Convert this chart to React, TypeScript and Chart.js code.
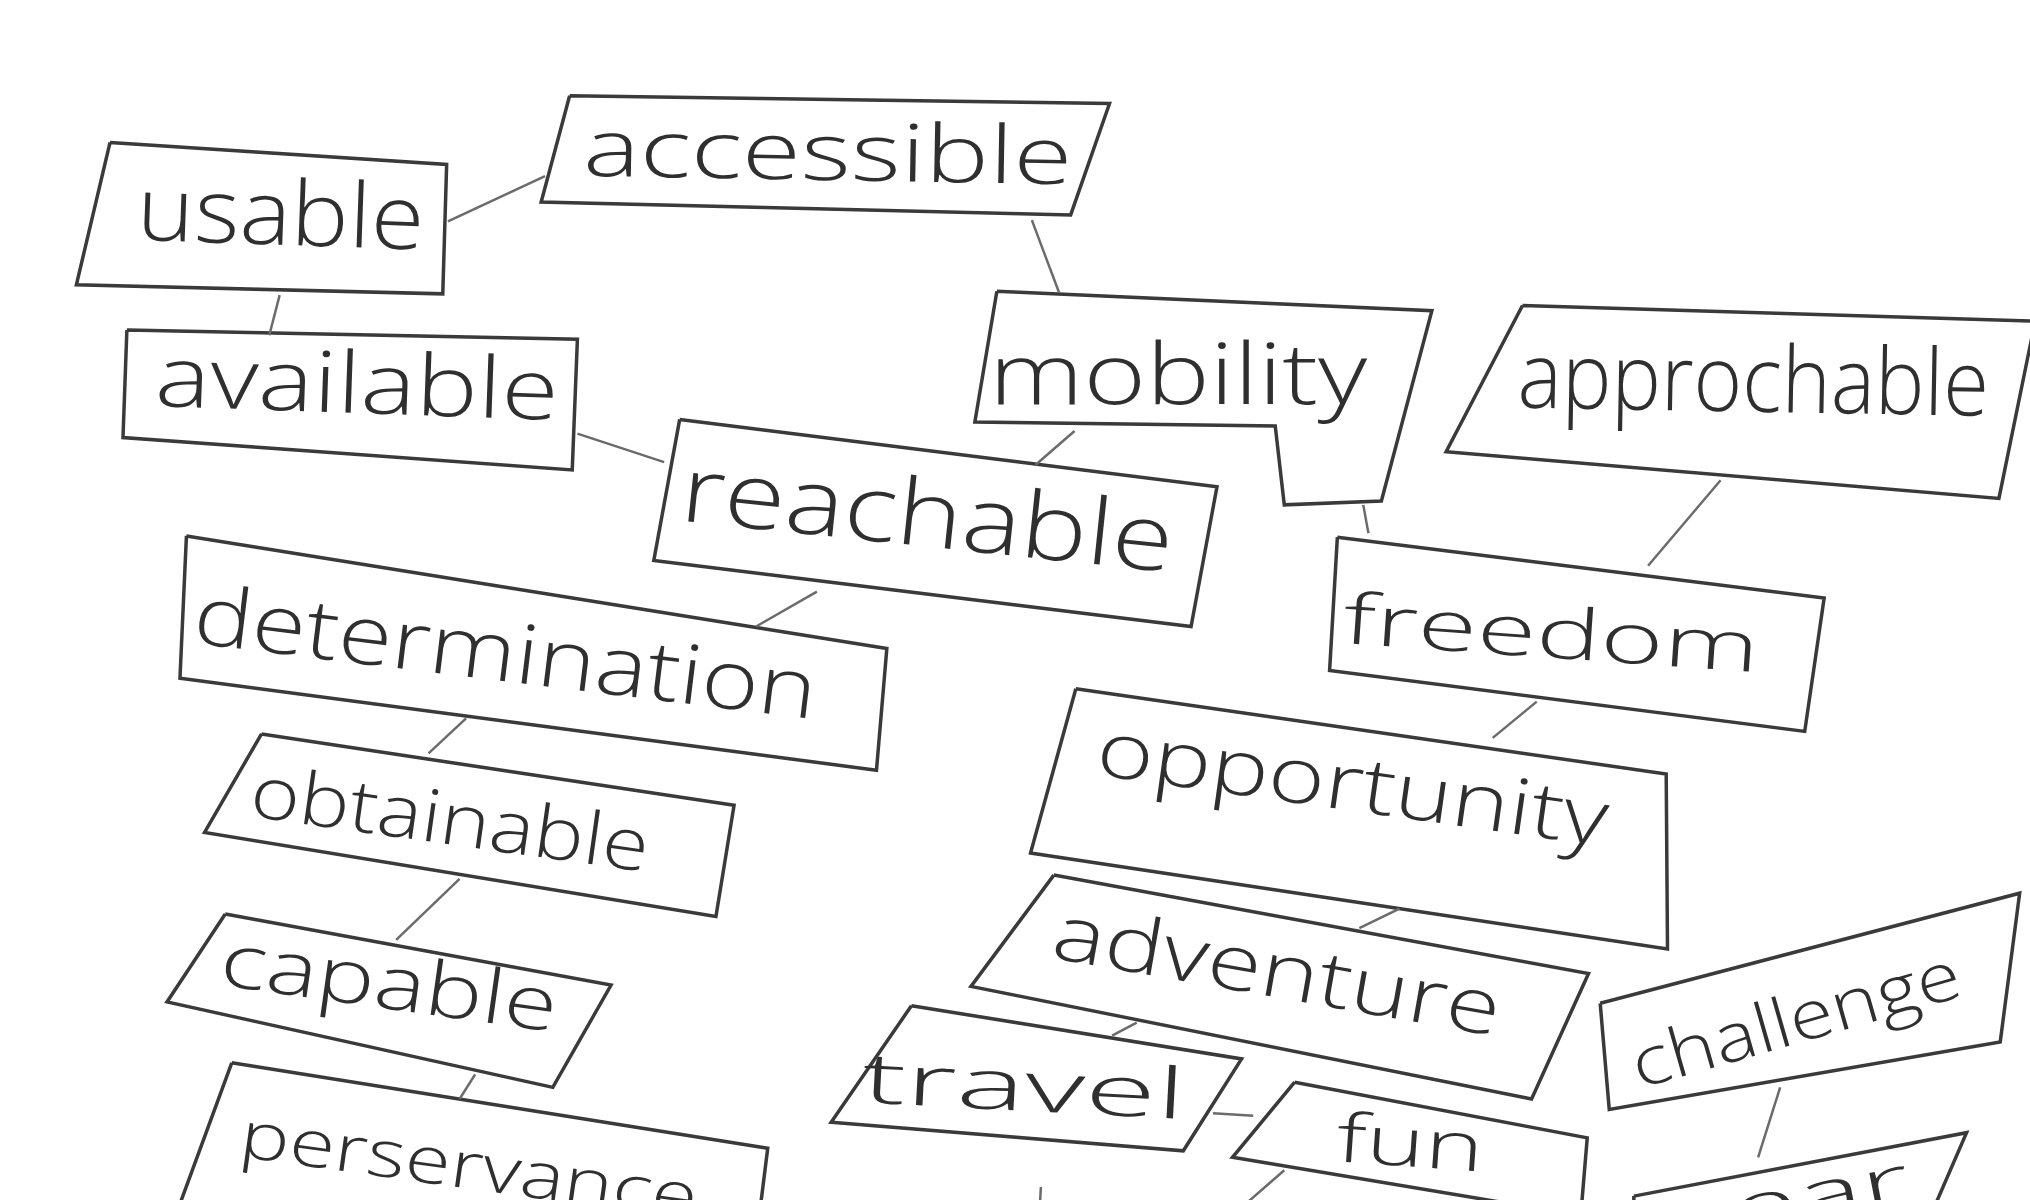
import React, { useEffect, useRef } from 'react';
import { Chart, registerables } from 'chart.js';

Chart.register(...registerables);

type Pt = [number, number];

// words written in the boxes
const words = [
    'usable', 'accessible', 'available', 'mobility', 'approchable', 'reachable',
    'freedom', 'determination', 'opportunity', 'obtainable', 'adventure', 'capable',
    'travel', 'fun', 'perservance', 'challenge', 'gear',
];

// outline of each box (sketch coordinates, y grows downward)
const outlines: Pt[][] = [
    [[85, 110], [345, 127], [342, 227], [59, 220]],
    [[440, 74], [857, 80], [827, 166], [418, 156]],
    [[98, 255], [446, 262], [442, 363], [95, 338]],
    [[770, 225], [1106, 240], [1067, 387], [992, 390], [985, 329], [753, 326]],
    [[1176, 236], [1572, 248], [1544, 385], [1117, 349]],
    [[525, 324], [940, 376], [920, 484], [505, 433]],
    [[1033, 415], [1409, 462], [1394, 565], [1027, 518]],
    [[144, 414], [685, 501], [677, 595], [139, 524]],
    [[831, 532], [1287, 598], [1288, 733], [796, 659]],
    [[202, 567], [567, 622], [553, 708], [158, 643]],
    [[814, 676], [1227, 752], [1183, 849], [750, 762]],
    [[174, 706], [472, 761], [427, 840], [129, 774]],
    [[704, 777], [959, 818], [914, 889], [642, 867]],
    [[1000, 836], [1226, 879], [1221, 939], [952, 894]],
    [[179, 821], [593, 887], [582, 975], [128, 960]],
    [[1236, 775], [1560, 690], [1545, 805], [1243, 857]],
    [[1262, 924], [1519, 875], [1480, 965], [1262, 985]],
];

// word placement: centre x, baseline y, slant in degrees, written width, x-height
const labelX = [216, 639, 275, 910, 1354, 714, 1197, 388, 1042, 345, 983, 298, 790, 1088, 360, 1392, 1384];
const labelY = [189, 139, 319, 312, 318, 422, 508, 526, 626, 652, 770, 779, 858, 901, 918, 805, 945];
const labelAngle = [2, 1, 2, 0, 1, 6, 4, 7, 8, 8, 10, 8, 3, 4, 8, -16, -11];
const labelWidth = [222, 378, 312, 292, 364, 382, 322, 484, 398, 310, 350, 262, 250, 114, 356, 262, 190];
const labelXHeight = [37, 33, 35, 35, 38, 38, 29, 34, 32, 30, 32, 31, 29, 28, 27, 28, 27];

// connecting strokes between boxes
const links: Pt[][] = [
    [[346, 171], [421, 136]],
    [[216, 228], [208, 259]],
    [[446, 335], [513, 357]],
    [[797, 170], [818, 226]],
    [[830, 333], [800, 359]],
    [[1053, 390], [1057, 412]],
    [[1329, 371], [1273, 437]],
    [[631, 457], [584, 484]],
    [[360, 555], [331, 582]],
    [[355, 679], [306, 726]],
    [[367, 830], [355, 849]],
    [[1187, 542], [1153, 570]],
    [[1081, 702], [1050, 717]],
    [[878, 790], [859, 800]],
    [[937, 860], [968, 862]],
    [[992, 904], [945, 945]],
    [[1375, 840], [1358, 894]],
    [[804, 917], [803, 935]],
];

const SKETCH_W = 1568;
const SKETCH_H = 927;
const X_HEIGHT_RATIO = 0.535;

const wordPlugin = {
    id: 'wordLabels',
    afterDatasetsDraw(chart: any) {
        const { ctx, scales } = chart;
        const xs = scales.x;
        const ys = scales.y;
        const family = '"Open Sans", "DejaVu Sans", sans-serif';
        words.forEach((w, i) => {
            const px = xs.getPixelForValue(labelX[i]);
            const py = ys.getPixelForValue(labelY[i]);
            const target = xs.getPixelForValue(labelX[i] + labelWidth[i] / 2) - xs.getPixelForValue(labelX[i] - labelWidth[i] / 2);
            const xh = ys.getPixelForValue(labelXHeight[i]) - ys.getPixelForValue(0);
            const size = xh / X_HEIGHT_RATIO;
            ctx.save();
            ctx.font = `300 ${size}px ${family}`;
            const measured = ctx.measureText(w).width;
            ctx.translate(px, py);
            ctx.rotate(labelAngle[i] * Math.PI / 180);
            ctx.scale(target / measured, 1);
            ctx.fillStyle = '#2f2f2f';
            ctx.textAlign = 'center';
            ctx.textBaseline = 'alphabetic';
            ctx.fillText(w, 0, 0);
            ctx.restore();
        });
    },
};

function WordMap() {
    const chartRef = useRef<HTMLCanvasElement | null>(null);
    const chartInstance = useRef<Chart | null>(null);

    useEffect(() => {
        document.body.style.margin = '0';
        if (!chartRef.current) return;
        if (chartInstance.current) chartInstance.current.destroy();

        const boxSets = outlines.map((pts, i) => ({
            label: words[i],
            data: [...pts, pts[0]].map(([x, y]) => ({ x, y })),
            showLine: true,
            borderColor: '#3a3a3a',
            borderWidth: 3.5,
            pointRadius: 0,
            borderJoinStyle: 'miter' as const,
            tension: 0,
        }));
        const linkSets = links.map((pts, i) => ({
            label: 'link' + i,
            data: pts.map(([x, y]) => ({ x, y })),
            showLine: true,
            borderColor: '#6b6b6b',
            borderWidth: 2.5,
            pointRadius: 0,
            tension: 0,
        }));

        chartInstance.current = new Chart(chartRef.current, {
            type: 'scatter',
            data: { datasets: [...linkSets, ...boxSets] },
            options: {
                animation: false,
                responsive: false,
                layout: { padding: 0 },
                scales: {
                    x: { type: 'linear', min: 0, max: SKETCH_W, display: false },
                    y: { type: 'linear', min: 0, max: SKETCH_H, reverse: true, display: false },
                },
                plugins: {
                    legend: { display: false },
                    tooltip: { enabled: false },
                },
            },
            plugins: [wordPlugin],
        });

        return () => {
            if (chartInstance.current) {
                chartInstance.current.destroy();
                chartInstance.current = null;
            }
        };
    }, []);

    return (
        <div style={{ width: 2030, height: 1200, background: '#fff' }}>
            <canvas ref={chartRef} width={2030} height={1200} style={{ display: 'block' }} />
        </div>
    );
}

export default function App() {
    return <WordMap />;
}
